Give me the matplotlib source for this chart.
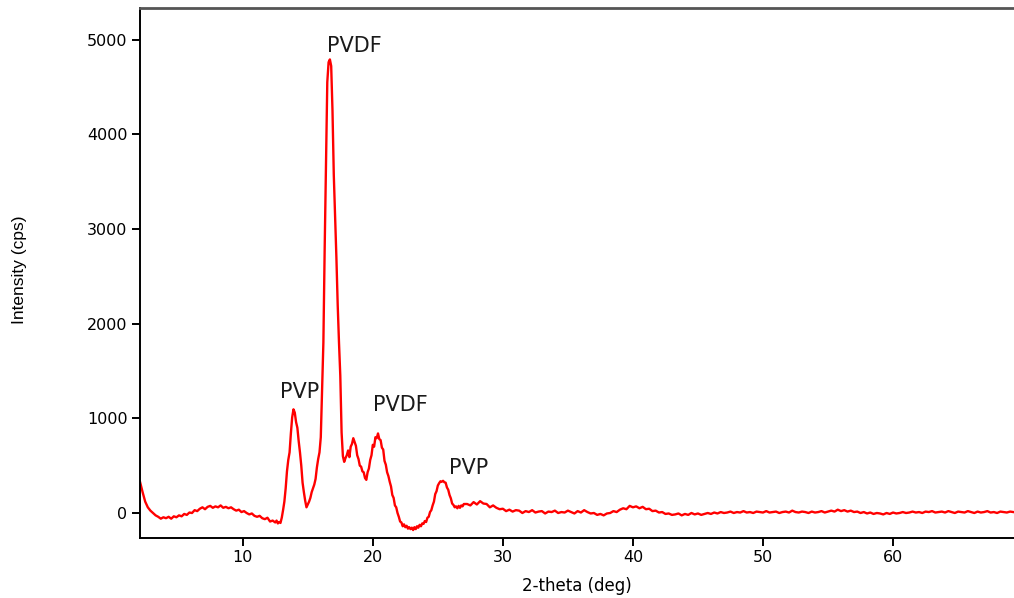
"""XRD pattern of the PVDF/PVP film, redrawn from the reference figure."""
import matplotlib

matplotlib.use("Agg")
import matplotlib.pyplot as plt
import numpy as np

# intensity (cps), three sampling segments
start_a, step_a = 2.1, 0.2
intensity_a = [
    330, 220, 120, 60, 25, 0, -25, -40, -60, -45, -55, -40, -60, -35, -45,
    -25, -35, -10, -20, 5, 0, 30, 20, 45, 60, 40, 65, 75, 55, 70, 60, 80, 55,
    65, 50, 60, 40, 25, 35, 10, 20, 0, -15, -5, -30, -40, -30, -55, -65, -50,
    -90, -80, -100,
]

start_b, step_b = 12.6, 0.1
intensity_b = [
    -80, -110, -95, -105, -50, 30, 120, 260, 440, 560,            # 12.6 - 13.5
    640, 840, 1010, 1095, 1060, 960, 900, 760, 640, 500,          # 13.6 - 14.5
    320, 220, 130, 60, 90, 120, 160, 220, 260, 300,               # 14.6 - 15.5
    360, 480, 570, 640, 800, 1300, 1800, 2800, 3650, 4550,        # 15.6 - 16.5
    4760, 4790, 4720, 4250, 3570, 3150, 2700, 2200, 1800, 1450,   # 16.6 - 17.5
    850, 600, 540, 580, 610, 660, 590, 700, 730, 790,             # 17.6 - 18.5
    750, 710, 610, 570, 500, 490, 440, 430, 370, 350,             # 18.6 - 19.5
    430, 470, 560, 610, 720, 700, 800, 790, 840, 780,             # 19.6 - 20.5
    770, 690, 670, 550, 510, 430, 390, 330, 280, 190,             # 20.6 - 21.5
    160, 80, 60, 0, -40, -90, -100, -140, -120, -150,             # 21.6 - 22.5
    -135, -165, -150, -170, -155, -180, -150, -170, -140, -155,   # 22.6 - 23.5
    -125, -140, -110, -115, -85, -95, -50, -40, 10, 30,           # 23.6 - 24.5
    80, 120, 200, 230, 290, 315, 335, 330, 340, 325,              # 24.6 - 25.5
    320, 270, 245, 190, 155, 100, 85, 60, 70, 50,                 # 25.6 - 26.5
    75, 55, 80, 70, 95,                                           # 26.6 - 27.0
]

start_c, step_c = 27.25, 0.25
intensity_c = [
    95, 80, 115, 90, 125, 100, 95, 60, 80, 55, 40, 45, 20, 35, 15, 30, 25, 0,
    20, 10, 30, 5, 15, 20, -5, 15, 10, 25, 0, 10, 5, 25, 10, -5, 20, 5, 30, 10,
    -5, 0, -20, -10, -25, -5, 0, 20, 10, 35, 50, 40, 75, 60, 70, 50, 65, 40,
    45, 20, 25, 5, 10, -10, -5, -20, -15, -5, -25, -10, -20, 0, -15, -5, -20,
    -10, 0, -10, 5, -5, 10, 0, 5, 15, 0, 10, 5, 20, 5, 10, 0, 15, 10, 5, 20, 5,
    10, 15, 0, 10, 15, 5, 25, 10, 5, 15, 10, 0, 15, 5, 10, 20, 5, 15, 25, 15,
    35, 20, 30, 15, 25, 10, 15, 0, 10, -5, 5, -10, 0, -5, -15, 0, -10, 5, -5,
    0, 10, 0, 5, 15, 5, 10, 0, 15, 10, 20, 5, 10, 15, 5, 20, 10, 0, 15, 10, 5,
    20, 10, 0, 15, 5, 10, 20, 5, 10, 0, 15, 10, 5, 15, 10,
]

peak_labels = ["PVDF", "PVP", "PVDF", "PVP"]
label_x = [18.58, 14.35, 22.15, 27.38]
label_y = [4831, 1173, 1036, 370]

y_ticks = [0, 1000, 2000, 3000, 4000, 5000]
x_ticks = [10, 20, 30, 40, 50, 60]


def segment(start, step, values):
    return start + step * np.arange(len(values)), np.asarray(values, float)


xa, ya = segment(start_a, step_a, intensity_a)
xb, yb = segment(start_b, step_b, intensity_b)
xc, yc = segment(start_c, step_c, intensity_c)
two_theta = np.concatenate([xa, xb, xc])
intensity = np.concatenate([ya, yb, yc])

fig = plt.figure(figsize=(10.14, 5.98), dpi=100)
ax = fig.add_axes([140 / 1014, 1 - 538 / 598, 874 / 1014, 530 / 598])
ax.plot(two_theta, intensity, color="#ff0000", linewidth=1.7)

ax.set_xlim(2.1, 69.3)
ax.set_ylim(-264, 5333)
ax.set_xticks(x_ticks)
ax.set_yticks(y_ticks)
ax.tick_params(direction="out", length=6, width=1.4, labelsize=11.5, pad=3,
               colors="black")

ax.spines["right"].set_visible(False)
ax.spines["top"].set_color("#555555")
ax.spines["top"].set_linewidth(2.0)
ax.spines["left"].set_linewidth(1.4)
ax.spines["bottom"].set_linewidth(1.4)

ax.set_xlabel("2-theta (deg)", fontsize=12, labelpad=8)
fig.text(20 / 1014, 1 - 270 / 598, "Intensity (cps)", rotation=90,
         ha="center", va="center", fontsize=12.5, family="Liberation Sans")

for text, x, y in zip(peak_labels, label_x, label_y):
    ax.text(x, y, text, ha="center", va="bottom", fontsize=15,
            color="#1a1a1a")

fig.savefig("out.png", dpi=100, facecolor="white")
plt.close(fig)
